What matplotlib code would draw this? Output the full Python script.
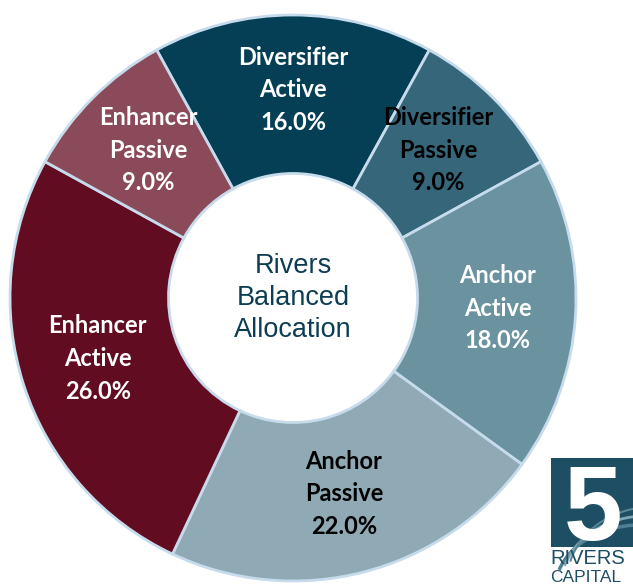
import numpy as np
import matplotlib.pyplot as plt
from matplotlib.patches import Rectangle, Arc

# Allocation data (clockwise from top)
categories = ['Diversifier\nActive', 'Diversifier\nPassive', 'Anchor\nActive',
              'Anchor\nPassive', 'Enhancer\nActive', 'Enhancer\nPassive']
weights = [16.0, 9.0, 18.0, 22.0, 26.0, 9.0]
colors = ['#053f55', '#36667a', '#6b929f', '#8faab4', '#620c22', '#8b4a5a']
label_colors = ['white', 'black', 'white', 'black', 'white', 'white']

W, H = 633, 587
fig = plt.figure(figsize=(W / 100, H / 100), dpi=100)
cx, cy, R = 293, 298, 283
ax = fig.add_axes([(cx - R) / W, (H - cy - R) / H, 2 * R / W, 2 * R / H])

start = 90 + weights[0] / 100 * 360 / 2
wedges, _ = ax.pie(weights, colors=colors, startangle=start, counterclock=False,
                   radius=1.0,
                   wedgeprops=dict(width=0.56, edgecolor='#c6dbec', linewidth=2))

# labels in the middle of each ring segment
for w, cat, val, tc in zip(wedges, categories, weights, label_colors):
    ang = np.deg2rad((w.theta1 + w.theta2) / 2)
    r = 0.725
    ax.text(r * np.cos(ang), r * np.sin(ang) + 0.01, f'{cat}\n{val:.1f}%', ha='center',
            va='center', color=tc, fontsize=17, fontweight='bold', family='Lato',
            linespacing=1.52)

ax.text(0, 0, 'Rivers\nBalanced\nAllocation', ha='center', va='center', color='#0d3d52',
        fontsize=19.5, family='Liberation Sans', linespacing=1.3)
ax.set_xlim(-1, 1)
ax.set_ylim(-1, 1)
ax.set_aspect('equal')

# logo in the corner
fig.patches.append(Rectangle((551 / W, (H - 547) / H), 90 / W, 89 / H,
                             transform=fig.transFigure, facecolor='#1e4e63', edgecolor='none'))
for k, c in enumerate(['#4f7f93', '#7ea6b5', '#5a8798']):
    fig.patches.append(Arc(((640 + 6 * k) / W, (H - 590 + 4 * k) / H), 170 / W, (130 + 10 * k) / H,
                           theta1=95, theta2=165, transform=fig.transFigure,
                           color=c, lw=2.5 - 0.5 * k))
fig.text(593 / W, (H - 540) / H, '5', ha='center', va='baseline', color='white',
         fontsize=76, fontweight='bold', family='Liberation Sans')
fig.text(550 / W, (H - 558) / H, 'RIVERS', ha='left', va='center', color='#1e4e63',
         fontsize=14.5, family='Liberation Sans')
fig.text(550 / W, (H - 577) / H, 'CAPITAL', ha='left', va='center', color='#1e4e63',
         fontsize=12.5, family='Liberation Sans')

fig.savefig('out.png', dpi=100)
